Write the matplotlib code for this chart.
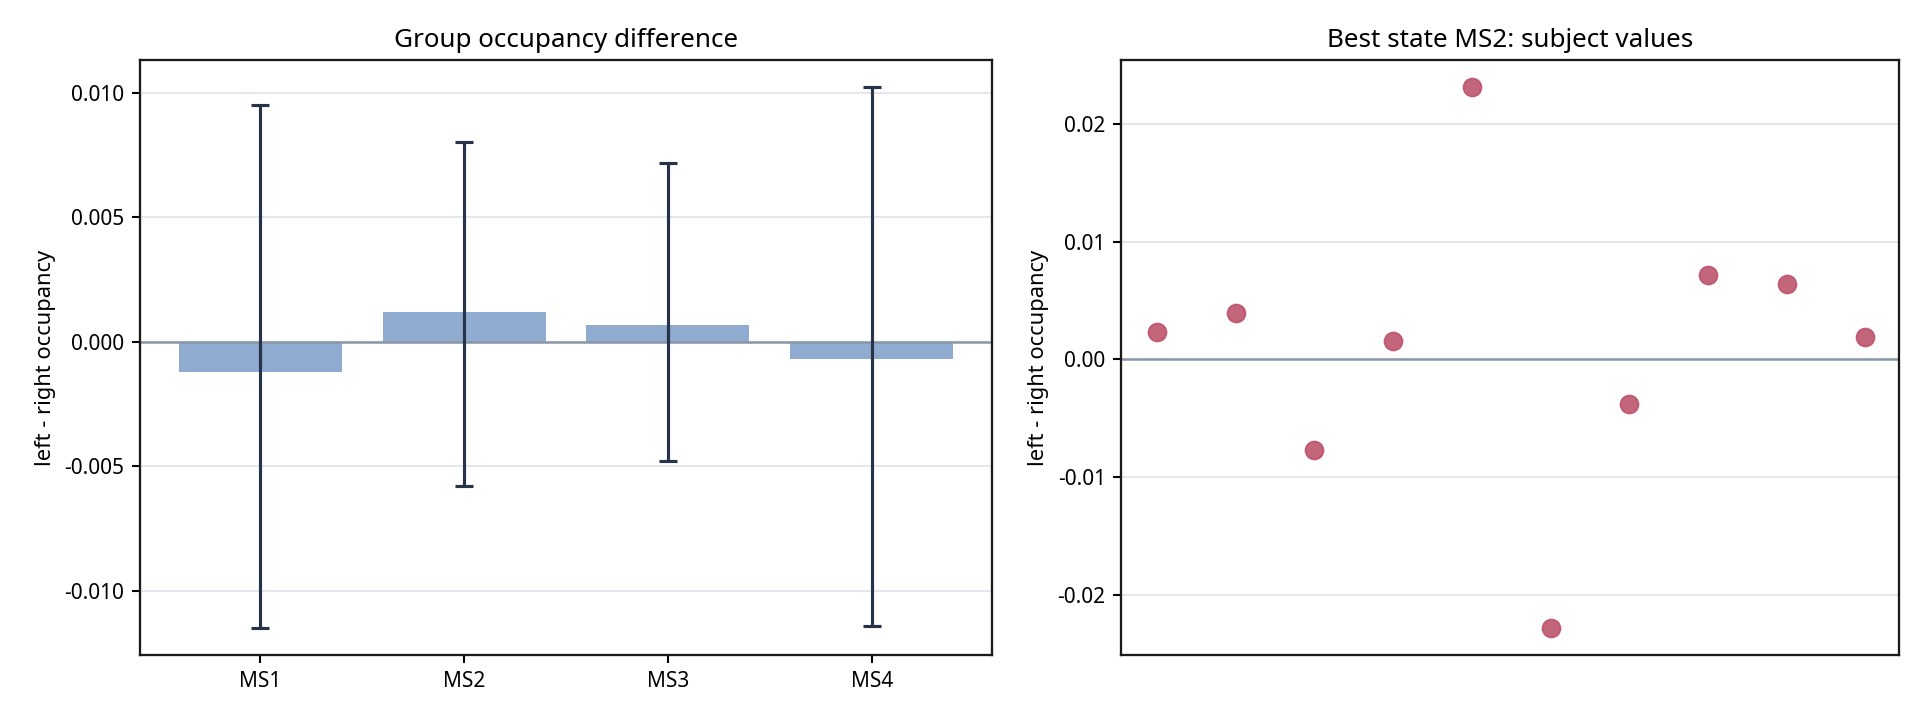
import matplotlib
matplotlib.use("Agg")
import matplotlib.pyplot as plt
import numpy as np

plt.rcParams['font.family'] = ['Noto Sans', 'DejaVu Sans']

# Data
states = ["MS1", "MS2", "MS3", "MS4"]
group_diff = [-0.0012, 0.00119, 0.00067, -0.00069]
ci_upper = [0.0095, 0.00802, 0.00718, 0.01023]
ci_lower = [-0.0115, -0.0058, -0.00479, -0.01142]

best_state = "MS2"
subject_values = [0.00229, 0.0039, -0.00773, 0.00155, 0.0231,
                  -0.02286, -0.00382, 0.00714, 0.00637, 0.00187]

bar_color = "#8fabcf"
err_color = "#263348"
pt_color = "#bb5069"
grid_color = "#e3e8f0"
zero_color = "#8a97a8"

fig = plt.figure(figsize=(12.8, 4.8), dpi=150)
ax1 = fig.add_axes([0.0729, 0.0903, 0.4438, 0.8264])
ax2 = fig.add_axes([0.5840, 0.0903, 0.4052, 0.8264])

x = np.arange(len(states))
gd = np.array(group_diff)
yerr = np.vstack([gd - np.array(ci_lower), np.array(ci_upper) - gd])
ax1.bar(x, gd, width=0.8, color=bar_color, zorder=2)
ax1.errorbar(x, gd, yerr=yerr, fmt='none', ecolor=err_color, elinewidth=1.5,
             capsize=4.5, capthick=1.5, zorder=3)
ax1.axhline(0, color=zero_color, lw=1.2, zorder=2.5)
ax1.set_xticks(x)
ax1.set_xticklabels(states)
ax1.set_ylim(-0.01258, 0.01131)
ax1.set_yticks([-0.010, -0.005, 0.0, 0.005, 0.010])
ax1.set_yticklabels(["-0.010", "-0.005", "0.000", "0.005", "0.010"])
ax1.set_title("Group occupancy difference", fontsize=12.5)
ax1.set_ylabel("left - right occupancy", fontsize=10.5)

xs = np.arange(len(subject_values))
ax2.scatter(xs, subject_values, s=75, color=pt_color, alpha=0.88,
            edgecolors=pt_color, linewidths=0.8, zorder=3)
ax2.axhline(0, color=zero_color, lw=1.2, zorder=2)
ax2.set_xlim(-0.455, 9.43)
ax2.set_ylim(-0.02512, 0.02543)
ax2.set_xticks([])
ax2.set_yticks([-0.02, -0.01, 0.0, 0.01, 0.02])
ax2.set_yticklabels(["-0.02", "-0.01", "0.00", "0.01", "0.02"])
ax2.set_title(f"Best state {best_state}: subject values", fontsize=12.5)
ax2.set_ylabel("left - right occupancy", fontsize=10.5)

for ax in (ax1, ax2):
    ax.yaxis.grid(True, color=grid_color, lw=1.0, zorder=0)
    ax.set_axisbelow(True)
    for s in ax.spines.values():
        s.set_linewidth(1.1)
        s.set_color("#1a1a1a")
    ax.tick_params(labelsize=10, length=4, width=1)

fig.savefig("out.png", dpi=150)
